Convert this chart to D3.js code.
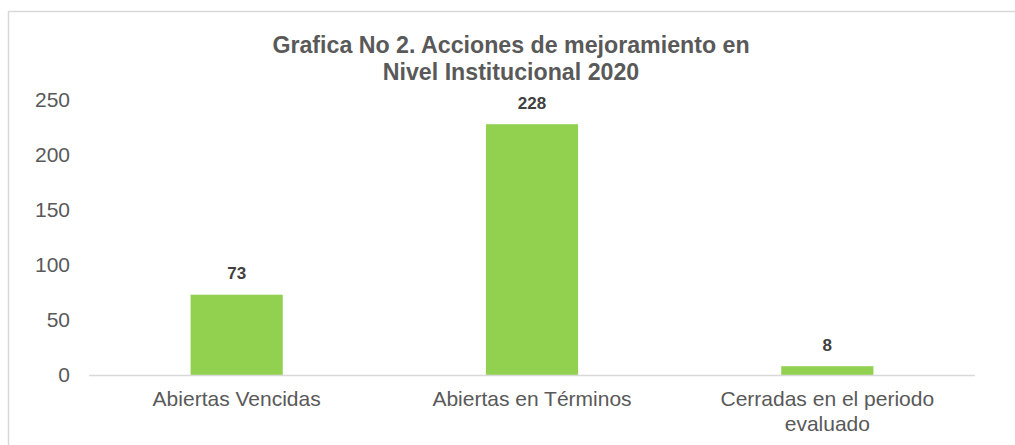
<!DOCTYPE html>
<html>
<head>
<meta charset="utf-8">
<script src="https://cdn.jsdelivr.net/npm/d3@7"></script>
<style>
  body { margin: 0; background: #fff; }
  svg { display: block; font-family: "Liberation Sans", Arial, sans-serif; }
</style>
</head>
<body>
<div id="chart"></div>
<script>
// data
const categories = ["Abiertas Vencidas", "Abiertas en Términos", "Cerradas en el periodo evaluado"];
const categoryLines = [["Abiertas Vencidas"], ["Abiertas en Términos"], ["Cerradas en el periodo", "evaluado"]];
const values = [73, 228, 8];
const yTicks = [0, 50, 100, 150, 200, 250];
const titleLines = ["Grafica No 2. Acciones de mejoramiento en", "Nivel Institucional 2020"];

const width = 1015, height = 445;

const svg = d3.select("#chart").append("svg")
  .attr("width", width)
  .attr("height", height);

// chart area border (runs off the right / bottom edge)
svg.append("rect")
  .attr("x", 8.5).attr("y", 11.5)
  .attr("width", 1010).attr("height", 440)
  .attr("fill", "#fff")
  .attr("stroke", "#d9d9d9")
  .attr("stroke-width", 1.5);

const x = d3.scaleBand().domain(categories).range([89, 975]).paddingInner(0.688).paddingOuter(0.344);
const y = d3.scaleLinear().domain([0, 250]).range([375, 100]);

// title
svg.append("text")
  .attr("x", 511).attr("y", 53)
  .attr("text-anchor", "middle")
  .attr("font-size", "23.2px")
  .attr("font-weight", "bold")
  .attr("fill", "#595959")
  .selectAll("tspan")
  .data(titleLines)
  .enter().append("tspan")
  .attr("x", 511)
  .attr("dy", (d, i) => i === 0 ? 0 : 27)
  .text(d => d);

// y tick labels
svg.selectAll(".ytick")
  .data(yTicks)
  .enter().append("text")
  .attr("x", 70)
  .attr("y", d => y(d) + 7)
  .attr("text-anchor", "end")
  .attr("font-size", "21px")
  .attr("fill", "#595959")
  .text(d => d);

// bars
svg.selectAll(".bar")
  .data(values)
  .enter().append("rect")
  .attr("x", (d, i) => x(categories[i]))
  .attr("y", d => y(d))
  .attr("width", x.bandwidth())
  .attr("height", d => y(0) - y(d))
  .attr("fill", "#92d050");

// baseline
svg.append("line")
  .attr("x1", 89).attr("x2", 975)
  .attr("y1", y(0) + 0.5).attr("y2", y(0) + 0.5)
  .attr("stroke", "#d9d9d9")
  .attr("stroke-width", 1.5);

// data labels
svg.selectAll(".label")
  .data(values)
  .enter().append("text")
  .attr("x", (d, i) => x(categories[i]) + x.bandwidth() / 2)
  .attr("y", d => y(d) - 15.5)
  .attr("text-anchor", "middle")
  .attr("font-size", "17px")
  .attr("font-weight", "bold")
  .attr("fill", "#404040")
  .text(d => d);

// category labels
const cat = svg.selectAll(".cat")
  .data(categories)
  .enter().append("text")
  .attr("text-anchor", "middle")
  .attr("font-size", "21px")
  .attr("fill", "#595959");

cat.selectAll("tspan")
  .data((d, i) => categoryLines[i].map(t => ({ t, c: d })))
  .enter().append("tspan")
  .attr("x", d => x(d.c) + x.bandwidth() / 2)
  .attr("y", (d, i) => 406 + i * 24.5)
  .text(d => d.t);
</script>
</body>
</html>
